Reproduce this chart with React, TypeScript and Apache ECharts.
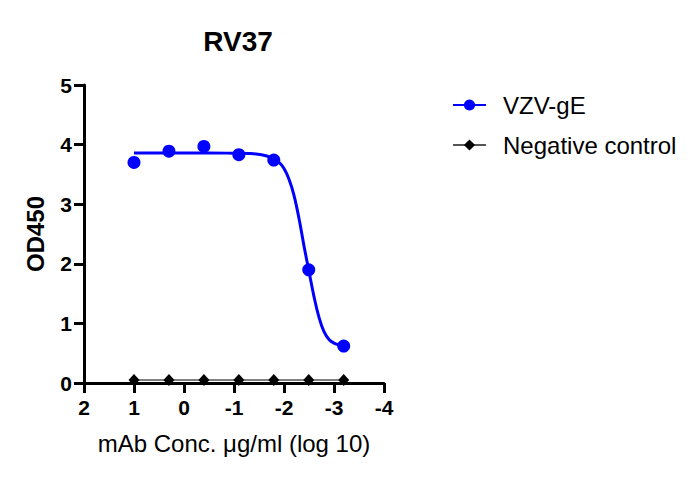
import React, { useEffect, useRef } from "react";
import * as echarts from "echarts";

const titleText = "RV37";
const xAxisName = "mAb Conc. μg/ml (log 10)";
const yAxisName = "OD450";
const seriesNames = ["VZV-gE", "Negative control"];

// log10 concentrations (5-fold dilutions)
const logConc = [1, 0.301, -0.398, -1.097, -1.796, -2.495, -3.194];
const vzvOD = [3.7, 3.89, 3.97, 3.83, 3.74, 1.9, 0.62];
const negOD = [0.05, 0.05, 0.05, 0.05, 0.05, 0.05, 0.05];

// fitted curve
const fitX = [1, 0.5, 0, -0.5, -1.0, -1.3, -1.55, -1.75, -1.9, -2.0, -2.1, -2.2, -2.3, -2.4, -2.5, -2.6, -2.7, -2.8, -2.9, -3.0, -3.1, -3.194];
const fitY = [3.86, 3.86, 3.86, 3.86, 3.855, 3.85, 3.83, 3.78, 3.7, 3.6, 3.42, 3.15, 2.76, 2.3, 1.87, 1.45, 1.1, 0.86, 0.73, 0.67, 0.64, 0.62];

const FONT = "Liberation Sans, Arial, Helvetica, sans-serif";

export default function App() {
  const ref = useRef<HTMLDivElement>(null);
  useEffect(() => {
    if (!ref.current) return;
    const chart = echarts.init(ref.current, null, { renderer: "svg" });
    chart.setOption({
      animation: false,
      backgroundColor: "#ffffff",
      title: {
        text: titleText,
        left: 233,
        top: 22,
        textAlign: "center",
        textStyle: { fontFamily: FONT, fontSize: 28, fontWeight: "bold", color: "#000" },
      },
      legend: {
        orient: "vertical",
        left: 447,
        top: 88,
        itemWidth: 33,
        itemHeight: 14,
        itemGap: 16,
        data: seriesNames,
        textStyle: { fontFamily: FONT, fontSize: 24, color: "#000", padding: [0, 0, 0, 12] },
      },
      grid: { left: 84, right: 316, top: 85, bottom: 96, containLabel: false },
      xAxis: {
        type: "value",
        inverse: true,
        min: -4,
        max: 2,
        interval: 1,
        name: xAxisName,
        nameLocation: "middle",
        nameGap: 48,
        nameTextStyle: { fontFamily: FONT, fontSize: 24, color: "#000" },
        axisLine: { show: true, onZero: false, lineStyle: { color: "#000", width: 3 } },
        axisTick: { show: true, length: 10, lineStyle: { color: "#000", width: 3 } },
        axisLabel: { fontFamily: FONT, fontSize: 21, fontWeight: "bold", color: "#000", margin: 14 },
        splitLine: { show: false },
      },
      yAxis: {
        type: "value",
        min: 0,
        max: 5,
        interval: 1,
        name: yAxisName,
        nameLocation: "middle",
        nameGap: 37,
        nameTextStyle: { fontFamily: FONT, fontSize: 24, fontWeight: "bold", color: "#000" },
        axisLine: { show: true, onZero: false, lineStyle: { color: "#000", width: 3 } },
        axisTick: { show: true, length: 10, lineStyle: { color: "#000", width: 3 } },
        axisLabel: { fontFamily: FONT, fontSize: 21, fontWeight: "bold", color: "#000", margin: 12 },
        splitLine: { show: false },
      },
      series: [
        {
          name: seriesNames[0],
          type: "line",
          data: fitX.map((x, i) => [x, fitY[i]]),
          smooth: 0.4,
          symbol: "circle",
          showSymbol: false,
          color: "#0000ff",
          lineStyle: { color: "#0000ff", width: 3 },
          z: 3,
        },
        {
          name: seriesNames[0],
          type: "scatter",
          data: logConc.map((x, i) => [x, vzvOD[i]]),
          symbol: "circle",
          symbolSize: 13,
          itemStyle: { color: "#0000ff", opacity: 1 },
          z: 4,
        },
        {
          name: seriesNames[1],
          type: "line",
          data: logConc.map((x, i) => [x, negOD[i]]),
          symbol: "diamond",
          symbolSize: [11, 12],
          showSymbol: true,
          color: "#000",
          itemStyle: { color: "#000" },
          lineStyle: { color: "#555", width: 1.5 },
          z: 5,
        },
      ],
    });
    return () => chart.dispose();
  }, []);
  return <div ref={ref} style={{ width: 700, height: 479, position: "absolute", left: 0, top: 0 }} />;
}
